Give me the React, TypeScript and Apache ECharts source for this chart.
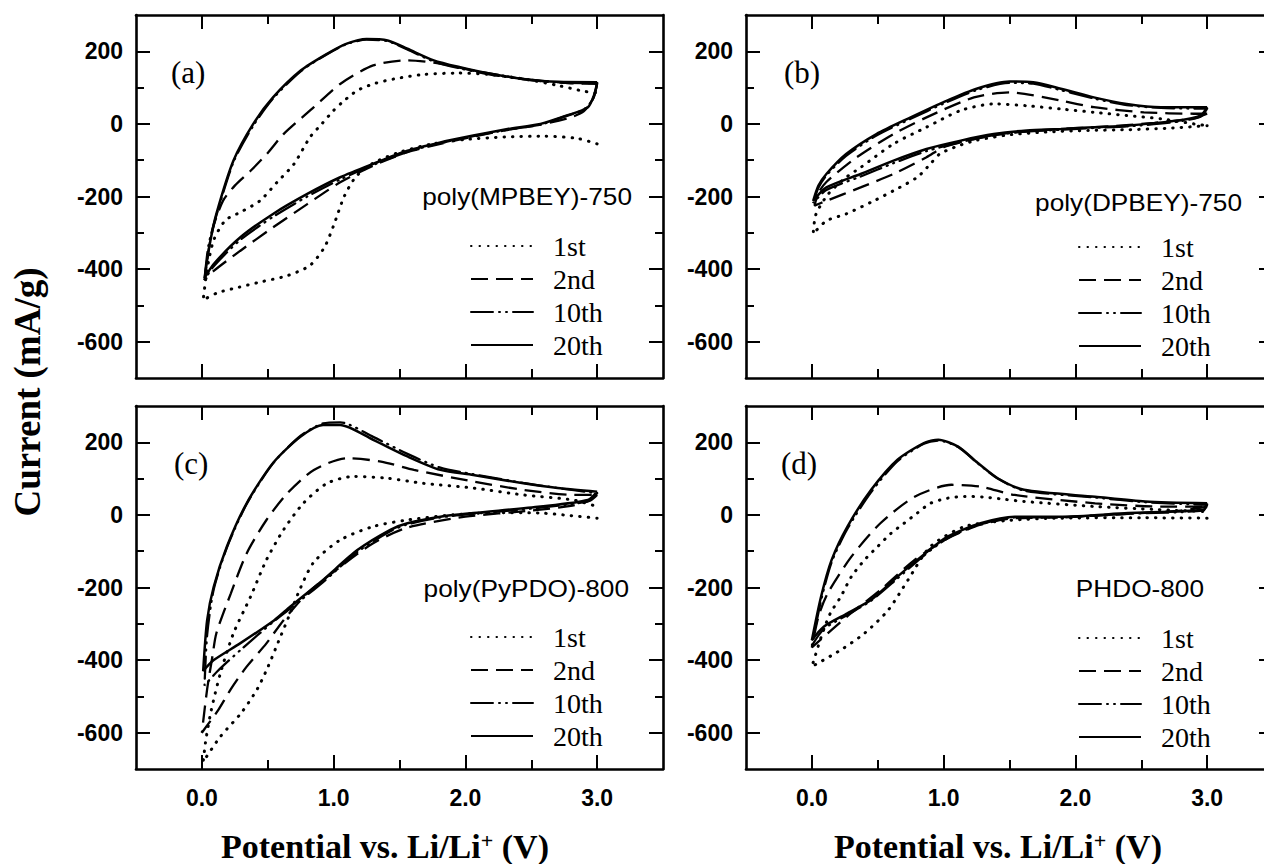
import React, { useEffect, useRef } from "react";
import * as echarts from "echarts";

// ---------- data ----------
const cycleNames = ["1st", "2nd", "10th", "20th"];
const panelLetters = ["(a)", "(b)", "(c)", "(d)"];
const panelNames = ["poly(MPBEY)-750", "poly(DPBEY)-750", "poly(PyPDO)-800", "PHDO-800"];
const xTitle = "Potential vs. Li/Li{sup|+} (V)";
const yTitle = "Current (mA/g)";
const xRange = [-0.5, 3.5];
const yRange = [-700, 300];
const xMajorTicks = [0, 1, 2, 3];
const xMinorTicks = [0.5, 1.5, 2.5];
const yMajorTicks = [-600, -400, -200, 0, 200];
const yMinorTicks = [-500, -300, -100, 100];

const a1st = [[3.0,-55],[2.85,-40],[2.6,-34],[2.3,-36],[2.0,-43],[1.75,-55],[1.5,-78],[1.3,-108],[1.17,-145],[1.08,-200],[1.0,-280],[0.93,-340],[0.82,-390],[0.65,-418],[0.45,-435],[0.28,-450],[0.12,-465],[0.01,-485],[0.04,-400],[0.09,-320],[0.18,-265],[0.3,-242],[0.44,-212],[0.57,-161],[0.7,-110],[0.82,-37],[0.91,0],[1.0,37],[1.08,64],[1.18,92],[1.3,110],[1.46,124],[1.68,136],[1.94,140],[2.19,136],[2.44,124],[2.7,106],[2.9,90],[3.0,85]];
const a2nd = [[3.0,110],[2.97,70],[2.9,35],[2.8,18],[2.57,-2],[2.3,-18],[2.06,-35],[1.81,-55],[1.56,-78],[1.3,-115],[1.05,-161],[0.8,-221],[0.54,-285],[0.29,-350],[0.09,-405],[0.02,-430],[0.05,-350],[0.09,-280],[0.16,-212],[0.25,-170],[0.37,-129],[0.5,-80],[0.62,-28],[0.85,46],[1.05,110],[1.3,161],[1.56,175],[1.81,166],[2.06,147],[2.44,124],[2.8,112],[3.0,110]];
const a10th = [[3.0,112],[2.97,70],[2.9,40],[2.75,20],[2.57,-2],[2.32,-16],[2.06,-34],[1.81,-53],[1.56,-77],[1.3,-113],[1.05,-153],[0.8,-200],[0.54,-256],[0.29,-320],[0.09,-392],[0.02,-430],[0.05,-335],[0.11,-252],[0.24,-105],[0.39,-5],[0.54,70],[0.75,145],[0.95,192],[1.1,220],[1.25,232],[1.41,228],[1.56,205],[1.76,172],[1.96,153],[2.19,136],[2.44,123],[2.7,114],[3.0,112]];
const a20th = [[3.0,115],[2.98,83],[2.93,46],[2.77,23],[2.57,0],[2.32,-14],[2.06,-32],[1.81,-51],[1.56,-74],[1.3,-110],[1.05,-147],[0.8,-193],[0.54,-248],[0.29,-313],[0.09,-386],[0.02,-425],[0.06,-331],[0.11,-248],[0.24,-101],[0.39,0],[0.54,73],[0.75,147],[0.95,193],[1.1,221],[1.25,234],[1.41,230],[1.56,207],[1.76,175],[1.96,156],[2.19,138],[2.44,124],[2.7,116],[3.0,115]];

const b1st = [[3.0,-5],[2.7,-12],[2.4,-16],[2.1,-18],[1.8,-22],[1.5,-30],[1.25,-45],[1.1,-62],[0.97,-83],[0.9,-110],[0.8,-147],[0.62,-184],[0.47,-212],[0.26,-248],[0.11,-267],[0.01,-303],[0.03,-250],[0.12,-195],[0.25,-150],[0.37,-120],[0.62,-55],[0.87,-9],[1.13,37],[1.38,55],[1.63,50],[1.89,41],[2.14,32],[2.39,23],[2.65,14],[2.9,0],[3.0,-5]];
const b2nd = [[3.0,28],[2.9,15],[2.6,3],[2.3,-6],[2.0,-12],[1.7,-18],[1.4,-30],[1.2,-45],[1.0,-64],[0.87,-92],[0.62,-138],[0.37,-175],[0.11,-212],[0.02,-225],[0.05,-190],[0.11,-160],[0.34,-92],[0.62,-28],[0.87,18],[1.23,73],[1.5,87],[1.89,64],[2.14,46],[2.52,32],[2.9,28],[3.0,28]];
const b10th = [[3.0,42],[2.95,20],[2.77,6],[2.39,-7],[2.14,-11],[1.89,-16],[1.63,-21],[1.38,-31],[1.13,-50],[0.87,-75],[0.62,-108],[0.37,-145],[0.11,-182],[0.01,-218],[0.05,-175],[0.11,-142],[0.26,-88],[0.49,-32],[0.75,14],[1.0,56],[1.25,93],[1.5,113],[1.68,111],[1.89,93],[2.14,70],[2.39,52],[2.65,44],[3.0,42]];
const b20th = [[3.0,46],[2.95,23],[2.77,9],[2.39,-5],[2.14,-9],[1.89,-14],[1.63,-18],[1.38,-28],[1.13,-46],[0.87,-69],[0.62,-101],[0.37,-138],[0.11,-175],[0.01,-212],[0.05,-170],[0.11,-138],[0.26,-83],[0.49,-28],[0.75,18],[1.0,60],[1.25,97],[1.5,117],[1.68,115],[1.89,97],[2.14,73],[2.39,55],[2.65,46],[3.0,46]];

const c1st = [[3.0,-9],[2.8,-2],[2.57,5],[2.2,6],[1.9,0],[1.56,-14],[1.3,-32],[1.05,-69],[0.85,-130],[0.75,-200],[0.66,-280],[0.58,-350],[0.5,-420],[0.42,-480],[0.3,-545],[0.14,-611],[0.01,-680],[0.03,-620],[0.07,-540],[0.14,-437],[0.24,-326],[0.37,-225],[0.49,-124],[0.62,-41],[0.77,32],[0.95,87],[1.15,106],[1.41,101],[1.68,87],[2.06,74],[2.44,55],[2.82,41],[3.0,23]];
const c2nd = [[3.0,55],[2.95,40],[2.8,25],[2.5,12],[2.0,-5],[1.56,-35],[1.3,-78],[1.05,-143],[0.8,-216],[0.62,-290],[0.49,-354],[0.34,-418],[0.22,-480],[0.12,-540],[0.04,-580],[0.0,-600],[0.04,-480],[0.08,-390],[0.11,-326],[0.22,-216],[0.34,-106],[0.49,-14],[0.65,60],[0.85,124],[1.1,156],[1.36,147],[1.61,124],[2.06,92],[2.44,69],[2.82,55],[3.0,55]];
const c10th = [[3.0,60],[2.93,38],[2.57,20],[2.06,3],[1.81,-7],[1.56,-26],[1.43,-45],[1.18,-102],[0.92,-185],[0.67,-258],[0.55,-292],[0.3,-370],[0.12,-430],[0.02,-470],[0.04,-330],[0.09,-205],[0.19,-90],[0.34,30],[0.54,142],[0.75,218],[0.92,252],[1.05,255],[1.3,215],[1.56,168],[1.81,130],[2.06,112],[2.44,88],[2.7,74],[3.0,60]];
const c20th = [[3.0,64],[2.93,41],[2.57,23],[2.06,5],[1.81,-5],[1.56,-23],[1.43,-41],[1.18,-97],[0.92,-179],[0.67,-253],[0.55,-290],[0.29,-354],[0.09,-400],[0.01,-430],[0.04,-290],[0.09,-198],[0.19,-87],[0.34,32],[0.54,143],[0.75,216],[0.92,248],[1.05,248],[1.3,207],[1.56,161],[1.81,124],[2.06,110],[2.44,87],[2.7,74],[3.0,64]];

const d1st = [[3.0,-9],[2.5,-8],[1.89,-9],[1.5,-15],[1.16,-32],[0.9,-87],[0.73,-179],[0.58,-262],[0.4,-326],[0.22,-372],[0.0,-418],[0.08,-326],[0.14,-271],[0.22,-225],[0.3,-170],[0.4,-124],[0.5,-87],[0.6,-51],[0.7,-23],[0.8,5],[0.9,32],[1.03,46],[1.16,51],[1.31,49],[1.46,43],[1.61,37],[2.15,23],[2.6,15],[3.0,9]];
const d2nd = [[3.0,23],[2.8,12],[2.4,3],[1.89,-7],[1.54,-9],[1.28,-27],[1.03,-65],[0.78,-124],[0.52,-207],[0.3,-270],[0.15,-317],[0.0,-365],[0.05,-280],[0.12,-216],[0.3,-115],[0.52,-23],[0.78,50],[1.06,83],[1.28,78],[1.54,55],[2.15,32],[2.65,23],[3.0,23]];
const d10th = [[3.0,28],[2.97,12],[2.4,3],[1.89,-6],[1.54,-7],[1.28,-26],[1.03,-64],[0.83,-118],[0.65,-175],[0.45,-236],[0.27,-275],[0.09,-315],[0.0,-360],[0.07,-235],[0.15,-130],[0.27,-38],[0.45,63],[0.65,148],[0.85,196],[0.96,205],[1.11,187],[1.26,142],[1.41,100],[1.61,67],[2.15,48],[2.53,35],[3.0,28]];
const d20th = [[3.0,32],[2.97,14],[2.4,5],[1.89,-5],[1.54,-5],[1.28,-23],[1.03,-60],[0.83,-115],[0.65,-170],[0.45,-234],[0.27,-271],[0.09,-308],[0.0,-345],[0.07,-225],[0.15,-124],[0.27,-32],[0.45,69],[0.65,152],[0.85,198],[0.96,207],[1.11,188],[1.26,143],[1.41,101],[1.61,69],[2.15,50],[2.53,37],[3.0,32]];

const panelData = [
  [a1st, a2nd, a10th, a20th],
  [b1st, b2nd, b10th, b20th],
  [c1st, c2nd, c10th, c20th],
  [d1st, d2nd, d10th, d20th],
];

// ---------- layout / style ----------
const SERIF = "'Liberation Serif', 'Times New Roman', serif";
const SANS = "'Liberation Sans', Arial, sans-serif";
const gridPos = [
  { left: 136, top: 15 },
  { left: 746, top: 15 },
  { left: 136, top: 406 },
  { left: 746, top: 406 },
];
const GW = 527;
const GH = 363;
const legendPos = [
  { left: 465, top: 227 },
  { left: 1073, top: 228 },
  { left: 465, top: 618 },
  { left: 1073, top: 619 },
];
const namePos = [
  { x: 632, y: 197 },
  { x: 1242, y: 203 },
  { x: 629, y: 589 },
  { x: 1204, y: 589 },
];
const letterPos = [
  { x: 171, y: 72 },
  { x: 784, y: 72 },
  { x: 174, y: 463 },
  { x: 781, y: 463 },
];
const xTitlePos = [
  { x: 385, y: 846 },
  { x: 998, y: 846 },
];
const lineStyles: any[] = [
  { type: [0.5, 8], width: 3, cap: "round" },
  { type: [17, 8], width: 2.3 },
  { type: [22, 6, 1, 6, 1, 6], width: 2.3, cap: "round" },
  { type: "solid", width: 2.5 },
];

function buildOption() {
  const grid: any[] = [];
  const xAxis: any[] = [];
  const yAxis: any[] = [];
  const series: any[] = [];
  const legend: any[] = [];
  const graphic: any[] = [];

  for (let p = 0; p < 4; p++) {
    grid.push({
      left: gridPos[p].left,
      top: gridPos[p].top,
      width: GW,
      height: GH,
      containLabel: false,
      outerBoundsMode: "none",
    });
    const showX = p >= 2;
    const base = {
      type: "value",
      gridIndex: p,
      splitLine: { show: false },
    };
    const mkX = (position: string, major: boolean) => ({
      ...base,
      min: xRange[0],
      max: xRange[1],
      position,
      axisLine: { show: major, onZero: false, lineStyle: { color: "#000", width: 2.6 } },
      axisTick: {
        show: true,
        inside: true,
        length: major ? 14 : 9,
        lineStyle: { color: "#000", width: 2 },
        customValues: major ? xMajorTicks : xMinorTicks,
      },
      axisLabel: {
        show: major && position === "bottom" && showX,
        customValues: xMajorTicks,
        formatter: (v: number) => v.toFixed(1),
        margin: 17,
        color: "#000",
        fontFamily: SANS,
        fontWeight: "bold",
        fontSize: 23,
      },
    });
    const mkY = (position: string, major: boolean) => ({
      ...base,
      min: yRange[0],
      max: yRange[1],
      position,
      axisLine: { show: major, onZero: false, lineStyle: { color: "#000", width: 2.6 } },
      axisTick: {
        show: true,
        inside: true,
        length: major ? 14 : 8,
        lineStyle: { color: "#000", width: 2 },
        customValues: major ? yMajorTicks : yMinorTicks,
      },
      axisLabel: {
        show: major && position === "left",
        customValues: yMajorTicks,
        formatter: (v: number) => String(v),
        margin: 13,
        color: "#000",
        fontFamily: SANS,
        fontWeight: "bold",
        fontSize: 23,
      },
    });
    xAxis.push(mkX("bottom", true), mkX("bottom", false), mkX("top", true), mkX("top", false));
    yAxis.push(mkY("left", true), mkY("left", false), mkY("right", true), mkY("right", false));

    panelData[p].forEach((data, c) => {
      series.push({
        type: "line",
        name: cycleNames[c],
        xAxisIndex: p * 4,
        yAxisIndex: p * 4,
        data,
        symbol: "none",
        showSymbol: false,
        smooth: 0.25,
        lineStyle: { color: "#000", ...lineStyles[c] },
        itemStyle: { color: "#000" },
        z: 3,
      });
    });

    legend.push({
      data: cycleNames,
      orient: "vertical",
      left: legendPos[p].left,
      top: legendPos[p].top,
      itemWidth: 62,
      itemHeight: 14,
      itemGap: 5,
      selectedMode: false,
      itemStyle: { opacity: 0 },
      textStyle: {
        fontFamily: SERIF,
        fontSize: 28,
        lineHeight: 28,
        color: "#000",
        padding: [0, 0, 0, 15],
      },
    });

    graphic.push({
      type: "text",
      x: namePos[p].x,
      y: namePos[p].y,
      scaleX: 1.14,
      style: {
        text: panelNames[p],
        fontFamily: SANS,
        fontSize: 23,
        fill: "#000",
        textAlign: "right",
        textVerticalAlign: "middle",
      },
    });
    graphic.push({
      type: "text",
      x: letterPos[p].x,
      y: letterPos[p].y,
      style: {
        text: panelLetters[p],
        fontFamily: SERIF,
        fontSize: 31,
        fill: "#000",
        textAlign: "left",
        textVerticalAlign: "middle",
      },
    });
  }

  xTitlePos.forEach((pos) => {
    graphic.push({
      type: "text",
      x: pos.x,
      y: pos.y,
      style: {
        text: xTitle,
        fontFamily: SERIF,
        fontWeight: "bold",
        fontSize: 34,
        fill: "#000",
        textAlign: "center",
        textVerticalAlign: "middle",
        rich: {
          sup: { fontFamily: SERIF, fontWeight: "bold", fontSize: 22, fill: "#000", verticalAlign: "top" },
        },
      },
    });
  });

  graphic.push({
    type: "text",
    x: 27,
    y: 392,
    rotation: Math.PI / 2,
    style: {
      text: yTitle,
      fontFamily: SERIF,
      fontWeight: "bold",
      fontSize: 37,
      fill: "#000",
      textAlign: "center",
      textVerticalAlign: "middle",
    },
  });

  return {
    animation: false,
    backgroundColor: "#fff",
    grid,
    xAxis,
    yAxis,
    series,
    legend,
    graphic,
  };
}

export default function App() {
  const ref = useRef<HTMLDivElement>(null);
  useEffect(() => {
    const chart = echarts.init(ref.current as HTMLDivElement, null, { renderer: "svg" });
    chart.setOption(buildOption() as any);
    return () => chart.dispose();
  }, []);
  return (
    <div
      ref={ref}
      style={{ position: "absolute", left: 0, top: 0, width: 1264, height: 864, background: "#fff" }}
    />
  );
}
